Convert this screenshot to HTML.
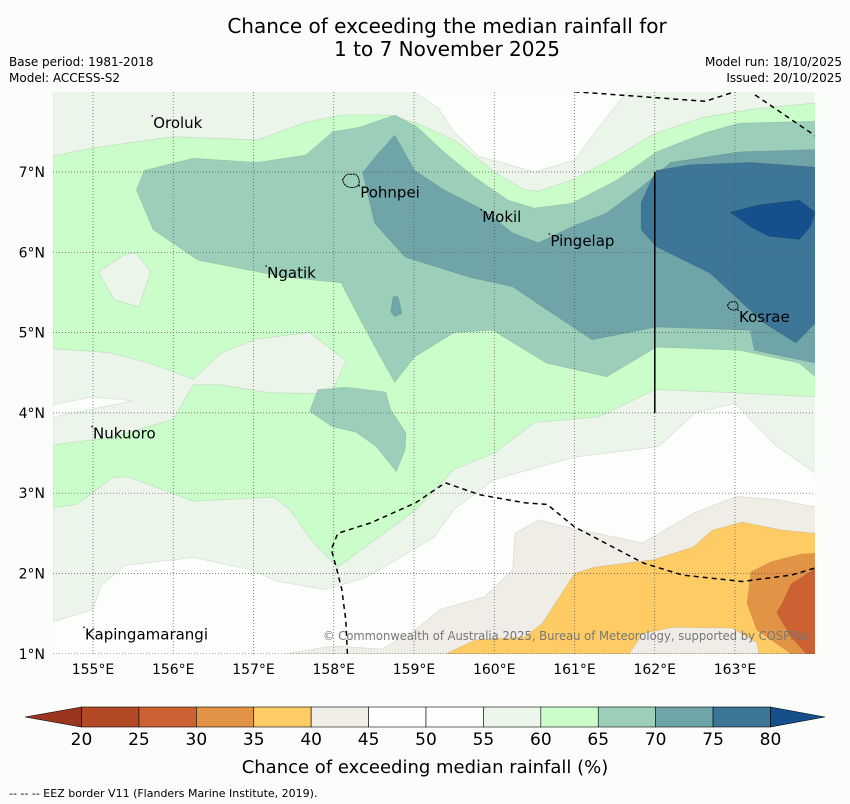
<!DOCTYPE html>
<html><head><meta charset="utf-8"><style>
html,body{margin:0;padding:0;background:#fbfdfb;}
svg{display:block;font-family:"DejaVu Sans","Liberation Sans",sans-serif;}
</style></head><body>
<svg id="chart" width="850" height="804" viewBox="0 0 850 804">
<rect width="850" height="804" fill="#fbfdfb"/>
<text x="447" y="33" font-size="20" text-anchor="middle" fill="#000">Chance of exceeding the median rainfall for</text>
<text x="447" y="56" font-size="20" text-anchor="middle" fill="#000">1 to 7 November 2025</text>
<text x="9" y="66" font-size="12">Base period: 1981-2018</text>
<text x="9" y="82" font-size="12">Model: ACCESS-S2</text>
<text x="842" y="66" font-size="12" text-anchor="end">Model run: 18/10/2025</text>
<text x="842" y="82" font-size="12" text-anchor="end">Issued: 20/10/2025</text>
<defs><clipPath id="mapclip"><rect x="53" y="92" width="762" height="562"/></clipPath></defs>
<g id="map" clip-path="url(#mapclip)"></g>
<g id="overlay"></g>
<g id="cbar"></g>
<text x="425" y="773" font-size="18" text-anchor="middle">Chance of exceeding median rainfall (%)</text>
<text x="9" y="797" font-size="11">--  --  -- EEZ border V11 (Flanders Marine Institute, 2019).</text>
</svg>
<script>
const lonTicks=[155,156,157,158,159,160,161,162,163];
const latTicks=[1,2,3,4,5,6,7];
const cbLevels=[20,25,30,35,40,45,50,55,60,65,70,75,80];
const cbColors=["#b34a25","#cc6233","#e29446","#fecb65","#f0ede7","#fefefe","#fcfefc","#ebf5ea","#cbfdca","#9ccfb9","#6fa5a8","#3e7697"];
const cbUnder="#9c3520", cbOver="#15508c";
const layer55=[[154.5,8],[159.0,8],[159.3,7.8],[159.5,7.5],[159.8,7.2],[160.5,7.0],[161.0,7.15],[161.3,7.55],[161.65,8],[164,8],[164,3.25],[163.5,3.6],[163.0,4.12],[162.5,4.0],[162.05,3.58],[161,3.45],[160.0,3.17],[159.5,2.8],[159.25,2.45],[158.4,1.95],[157.9,1.8],[157.3,1.9],[156.95,2.05],[156.25,2.2],[155.4,2.1],[155.1,1.85],[155,1.55],[154.5,1.4]];
const layer60=[[154.5,7.2],[155.0,7.3],[156.0,7.44],[157.05,7.4],[157.65,7.62],[158.1,7.71],[158.7,7.71],[159.05,7.6],[159.5,7.4],[160.0,7.0],[160.37,6.78],[160.55,6.76],[160.97,6.9],[161.5,7.18],[162.0,7.48],[162.6,7.68],[163.2,7.78],[164,7.86],[164,4.2],[163.0,4.25],[162.0,4.29],[161.3,3.95],[160.5,3.88],[160.0,3.5],[159.5,3.3],[159.03,2.8],[158.05,2.08],[157.75,2.38],[157.45,2.8],[157.25,2.95],[156.25,2.9],[155.45,3.2],[155.25,3.2],[154.8,2.86],[154.5,2.82]];
const patch55a=[[154.5,4.8],[155.2,4.75],[155.7,4.62],[156.25,4.42],[156.6,4.75],[157.05,4.92],[157.7,5.0],[158.15,4.65],[157.97,4.24],[157.2,4.25],[156.6,4.35],[156.25,4.35],[156.0,3.92],[155.25,3.7],[154.5,3.6]];
const patch50a=[[154.5,4.1],[155.0,4.2],[155.5,4.15],[155.0,4.05],[154.5,3.95]];
const patch55b=[[155.07,5.76],[155.39,5.97],[155.54,5.99],[155.72,5.76],[155.57,5.32],[155.26,5.41]];
const layer65=[[155.64,7.02],[156.25,7.17],[157.05,7.12],[157.65,7.21],[157.99,7.5],[158.33,7.56],[158.76,7.71],[159.04,7.56],[159.37,7.25],[159.75,6.94],[160.17,6.65],[160.5,6.55],[160.97,6.61],[161.53,6.9],[162.02,7.25],[162.63,7.49],[163.06,7.61],[164,7.63],[164,4.45],[163.8,4.62],[163.06,4.78],[162.02,4.82],[161.4,4.45],[160.65,4.62],[159.98,5.03],[159.5,5.0],[159.01,4.7],[158.76,4.38],[158.58,4.7],[158.33,5.16],[158.09,5.62],[157.4,5.69],[156.31,5.9],[155.75,6.28],[155.54,6.78]];
const patch65=[[157.8,4.29],[158.15,4.32],[158.65,4.26],[158.71,4.04],[158.9,3.75],[158.89,3.54],[158.78,3.27],[158.53,3.58],[158.28,3.76],[157.98,3.83],[157.7,4.02]];
const layer70=[[158.76,7.46],[159.01,7.02],[159.37,6.78],[159.86,6.53],[160.23,6.24],[160.55,6.12],[160.97,6.32],[161.4,6.49],[161.83,6.81],[162.2,7.12],[163.06,7.25],[164,7.28],[164,4.62],[163.24,4.78],[163.19,5.03],[162.02,5.07],[161.22,4.91],[160.6,5.32],[160.23,5.57],[159.69,5.69],[158.89,5.94],[158.51,6.36],[158.36,6.99],[158.51,7.18]];
const patch70=[[158.74,5.45],[158.8,5.45],[158.85,5.24],[158.76,5.2],[158.71,5.26]];
const layer75=[[162.02,7.02],[162.44,7.09],[163.19,7.12],[164,7.06],[164,5.12],[163.76,4.87],[163.36,5.12],[162.69,5.74],[162.02,6.07],[161.83,6.28],[161.83,6.62],[161.98,6.94]];
const layer80=[[162.94,6.5],[163.3,6.59],[163.8,6.65],[164,6.5],[163.94,6.32],[163.8,6.16],[163.42,6.2],[163.19,6.32]];
const layer45=[[160.26,2.5],[160.56,2.67],[160.8,2.6],[161.85,2.38],[162.48,2.75],[163.02,2.96],[163.52,2.92],[164,2.83],[164,1],[157.42,1],[157.98,1.1],[158.6,1.06],[159.02,1.3],[159.32,1.55],[159.88,1.71],[160.23,2.05]];
const layer40=[[159.4,1.0],[159.76,1.17],[160.38,1.21],[160.6,1.38],[161.0,2.0],[161.25,2.08],[161.98,2.17],[162.48,2.33],[162.72,2.54],[163.09,2.64],[163.59,2.54],[164,2.5],[164,1]];
const hole45=[[161.68,1],[161.85,1.25],[162.22,1.33],[162.96,1.32],[163.27,1.14],[163.3,1]];
const layer35=[[163.2,2.02],[163.46,2.15],[163.82,2.24],[164,2.25],[164,1],[163.7,1.0],[163.27,1.3],[163.15,1.63]];
const layer30=[[163.52,1.51],[163.59,1.63],[163.7,1.87],[163.94,2.02],[164,2.08],[164,1],[163.89,1.0],[163.7,1.21]];
const eezTop=[[161,8],[162.63,7.88],[163.06,8.02]];
const eezTopRight=[[163.25,7.96],[164,7.45]];
const eezSouth=[[158.17,1.0],[158.15,1.42],[158.1,1.8],[158.03,2.08],[157.97,2.3],[158.05,2.5],[158.46,2.63],[159.02,2.88],[159.39,3.13],[159.82,2.98],[160.38,2.88],[160.66,2.86],[161,2.58],[161.86,2.13],[162.35,1.98],[163.09,1.9],[163.7,1.98],[164,2.07]];
const boundaryLine=[[162,7],[162,4]];
const places=[["Oroluk",155.75,7.55],["Pohnpei",158.33,6.68],["Mokil",159.85,6.38],["Pingelap",160.7,6.08],["Ngatik",157.17,5.68],["Kosrae",163.05,5.13],["Nukuoro",155.0,3.68],["Kapingamarangi",154.9,1.18]];

const NS="http://www.w3.org/2000/svg";
const X=lon=>93+(lon-155)*80.25;
const Y=lat=>172-(lat-7)*80.3;
const pts=a=>a.map(p=>X(p[0]).toFixed(1)+","+Y(p[1]).toFixed(1)).join(" ");
const map=document.getElementById("map");
const ov=document.getElementById("overlay");
function poly(arr,fill,name){const e=document.createElementNS(NS,"polygon");e.setAttribute("points",pts(arr));e.setAttribute("fill",fill);e.setAttribute("stroke","rgba(0,0,0,0.13)");e.setAttribute("stroke-width","0.6");


map.appendChild(e);}
const base=document.createElementNS(NS,"rect");base.setAttribute("x",53);base.setAttribute("y",92);base.setAttribute("width",762);base.setAttribute("height",562);base.setAttribute("fill","#fcfefc");


map.appendChild(base);
poly(layer55,"#ebf5ea","contour-55");
poly(layer60,"#cbfdca","contour-60");
poly(patch55a,"#ebf5ea","contour-55-patch");
poly(patch50a,"#fcfefc","contour-50-patch");
poly(patch55b,"#ebf5ea","contour-55-diamond");
poly(layer65,"#9ccfb9","contour-65");
poly(patch65,"#9ccfb9","contour-65-patch");
poly(layer70,"#6fa5a8","contour-70");
poly(patch70,"#6fa5a8","contour-70-patch");
poly(layer75,"#3e7697","contour-75");
poly(layer80,"#15508c","contour-80");
poly(layer45,"#f0ede7","contour-45");
poly(layer40,"#fecb65","contour-40");
poly(hole45,"#f0ede7","contour-45-hole");
poly(layer35,"#e29446","contour-35");
poly(layer30,"#cc6233","contour-30");
lonTicks.forEach(l=>{const e=document.createElementNS(NS,"line");e.setAttribute("x1",X(l));e.setAttribute("x2",X(l));e.setAttribute("y1",92);e.setAttribute("y2",654);e.setAttribute("stroke","#555");e.setAttribute("stroke-width","0.7");e.setAttribute("stroke-dasharray","1,2");


map.appendChild(e);
const t=document.createElementNS(NS,"text");t.setAttribute("x",X(l));t.setAttribute("y",674);t.setAttribute("font-size","14");t.setAttribute("text-anchor","middle");t.textContent=l+"°E";


ov.appendChild(t);});
latTicks.forEach(l=>{const e=document.createElementNS(NS,"line");e.setAttribute("x1",53);e.setAttribute("x2",815);e.setAttribute("y1",Y(l));e.setAttribute("y2",Y(l));e.setAttribute("stroke","#555");e.setAttribute("stroke-width","0.7");e.setAttribute("stroke-dasharray","1,2");


map.appendChild(e);
const t=document.createElementNS(NS,"text");t.setAttribute("x",45);t.setAttribute("y",Y(l)+5);t.setAttribute("font-size","14");t.setAttribute("text-anchor","end");t.textContent=l+"°N";


ov.appendChild(t);});
function pline(arr,dash,w,name){const e=document.createElementNS(NS,"polyline");e.setAttribute("points",pts(arr));e.setAttribute("fill","none");e.setAttribute("stroke","#000");e.setAttribute("stroke-width",w);if(dash)e.setAttribute("stroke-dasharray",dash);


map.appendChild(e);}
pline(eezTop,"5,4",1.5,"eez-border-north");
pline(eezTopRight,"5,4",1.5,"eez-border-northeast");
pline(eezSouth,"5,4",1.5,"eez-border-south");
pline(boundaryLine,null,1.5,"boundary-line");
function island(lon,lat,r,name){const e=document.createElementNS(NS,"path");const cx=X(lon),cy=Y(lat);
e.setAttribute("d",`M${cx-r},${cy-r*0.3} q${r*0.4},${-r*0.9} ${r},${-r*0.7} q${r*0.8},${-r*0.2} ${r},${r*0.5} q${r*0.3},${r*0.9} ${-r*0.5},${r*1.1} q${-r*1.2},${r*0.2} ${-r*1.5},${-r*0.9}z`);
e.setAttribute("fill","none");e.setAttribute("stroke","#000");e.setAttribute("stroke-width","1");e.setAttribute("stroke-dasharray","2,0.6");


map.appendChild(e);}
island(158.21,6.87,8,"pohnpei-island");
island(162.97,5.32,5,"kosrae-island");
places.forEach(p=>{const d=document.createElementNS(NS,"circle");d.setAttribute("cx",X(p[1])-1);d.setAttribute("cy",Y(p[2])-12);d.setAttribute("r",0.8);


map.appendChild(d);
const t=document.createElementNS(NS,"text");t.setAttribute("x",X(p[1]));t.setAttribute("y",Y(p[2]));t.setAttribute("font-size","15");t.textContent=p[0];


map.appendChild(t);});
const cr=document.createElementNS(NS,"text");cr.setAttribute("x",323);cr.setAttribute("y",640);cr.setAttribute("font-size","12");cr.setAttribute("textLength","487");cr.setAttribute("lengthAdjust","spacingAndGlyphs");cr.setAttribute("fill","#777");cr.textContent="© Commonwealth of Australia 2025, Bureau of Meteorology, supported by COSPPac";


ov.appendChild(cr);
const cb=document.getElementById("cbar");
const CX=v=>81.5+(v-20)*(770.5-81.5)/60;
const y0=707,y1=727;
for(let i=0;i<cbColors.length;i++){const r=document.createElementNS(NS,"rect");r.setAttribute("x",CX(cbLevels[i]));r.setAttribute("y",y0);r.setAttribute("width",CX(cbLevels[i+1])-CX(cbLevels[i]));r.setAttribute("height",y1-y0);r.setAttribute("fill",cbColors[i]);r.setAttribute("stroke","#000");r.setAttribute("stroke-width","0.6");


cb.appendChild(r);}
const tl=document.createElementNS(NS,"polygon");tl.setAttribute("points",`${CX(20)},${y0} 25,${(y0+y1)/2} ${CX(20)},${y1}`);tl.setAttribute("fill",cbUnder);tl.setAttribute("stroke","#000");tl.setAttribute("stroke-width","0.6");


cb.appendChild(tl);
const tr=document.createElementNS(NS,"polygon");tr.setAttribute("points",`${CX(80)},${y0} 825,${(y0+y1)/2} ${CX(80)},${y1}`);tr.setAttribute("fill",cbOver);tr.setAttribute("stroke","#000");tr.setAttribute("stroke-width","0.6");


cb.appendChild(tr);
cbLevels.forEach(v=>{const t=document.createElementNS(NS,"text");t.setAttribute("x",CX(v));t.setAttribute("y",745);t.setAttribute("font-size","17");t.setAttribute("text-anchor","middle");t.textContent=v;


cb.appendChild(t);});
</script>
</body></html>
